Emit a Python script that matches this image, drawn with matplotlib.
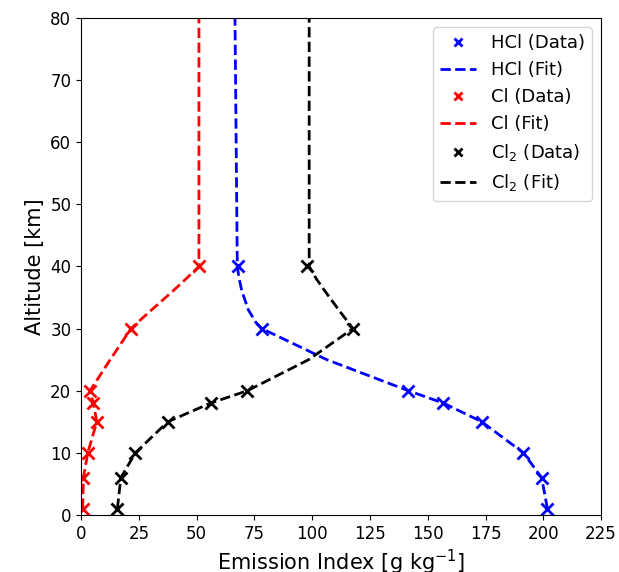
import matplotlib.pyplot as plt

plt.rcParams.update({'font.size': 12})

# Measured points (altitude in km, emission index in g/kg)
alt_data = [1, 6, 10, 15, 18, 20, 30, 40]
hcl_data = [201.8, 199.3, 191.4, 173.4, 156.8, 141.6, 78.2, 68.1]
cl_data = [0.7, 1.0, 2.9, 6.8, 5.3, 3.9, 21.6, 51.2]
cl2_data = [15.7, 17.2, 23.5, 37.5, 56.0, 72.0, 117.6, 97.9]

# Fitted profiles
alt_fit = [1, 6, 10, 15, 18, 20, 25, 30, 31, 33, 36, 38, 40, 80]
hcl_fit = [201.8, 199.3, 191.4, 173.4, 156.8, 141.6, 106.3, 78.2, 75.6, 72.4, 69.6, 68.4, 67.6, 66.6]
cl_fit = [0.7, 1.0, 2.9, 6.8, 5.3, 3.9, 12.6, 21.6, 24.5, 30.5, 39.6, 45.4, 51.0, 51.0]
cl2_fit = [15.7, 17.2, 23.5, 37.5, 56.0, 72.0, 98.5, 117.6, 115.6, 111.5, 105.6, 101.8, 98.7, 98.7]

fig = plt.figure(figsize=(6.19, 5.72), dpi=100)
ax = fig.add_axes([0.131, 0.0997, 0.84, 0.869])

ax.plot(hcl_data, alt_data, 'x', color='blue', markersize=8, mew=2, label='HCl (Data)')
ax.plot(hcl_fit, alt_fit, '--', color='blue', linewidth=2, label='HCl (Fit)')
ax.plot(cl_data, alt_data, 'x', color='red', markersize=8, mew=2, label='Cl (Data)')
ax.plot(cl_fit, alt_fit, '--', color='red', linewidth=2, label='Cl (Fit)')
ax.plot(cl2_data, alt_data, 'x', color='black', markersize=8, mew=2, label='Cl$_2$ (Data)')
ax.plot(cl2_fit, alt_fit, '--', color='black', linewidth=2, label='Cl$_2$ (Fit)')

ax.set_xlim(0, 225)
ax.set_ylim(0, 80)
ax.set_xticks(range(0, 226, 25))
ax.set_yticks(range(0, 81, 10))
ax.set_xlabel('Emission Index [g kg$^{-1}$]', fontsize=15)
ax.set_ylabel('Altitude [km]', fontsize=15)
ax.legend(loc='upper right', fontsize=13, markerscale=0.8)

plt.savefig('out.png', dpi=100)
